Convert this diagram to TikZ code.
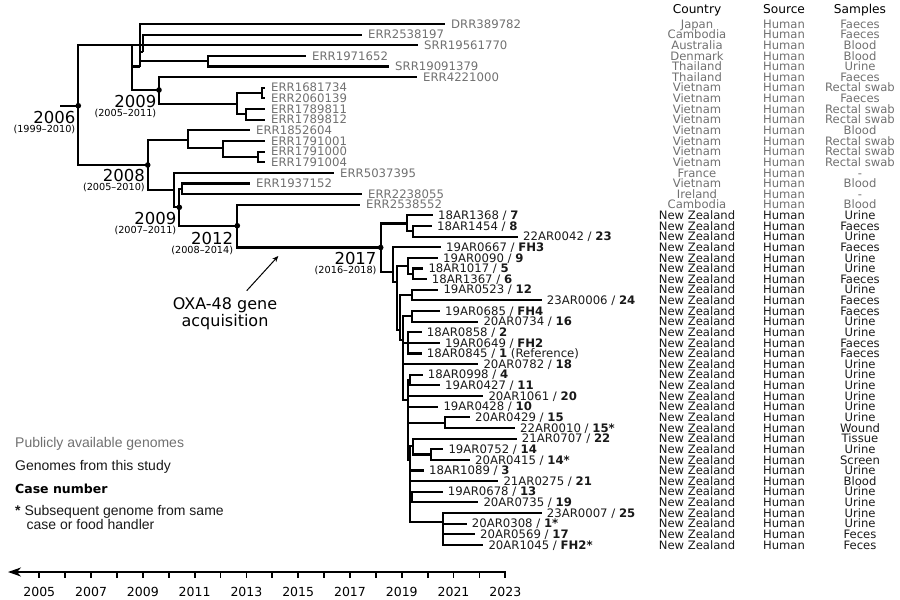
\documentclass[tikz,border=0pt]{standalone}
\usepackage{fontspec}
\setmainfont{DejaVu Sans}
\newfontfamily\legfont{Liberation Sans}
\usepackage{xcolor}
\usetikzlibrary{arrows.meta, positioning}
\definecolor{pubgray}{RGB}{112,112,112}
\definecolor{nzblack}{RGB}{25,25,25}
\newcommand{\casenum}[1]{~/~\textbf{#1}}

\begin{document}
\begin{tikzpicture}[x=1pt, y=-1pt,
    branch/.style={line width=2.1pt},
    pub/.style={anchor=west, text=pubgray, font=\fontsize{11.7}{12}\selectfont,
        text height=8.4pt, text depth=0pt, inner ysep=0pt, inner xsep=6pt},
    nz/.style={pub, text=nzblack, inner xsep=5pt},
    cell/.style={anchor=center, font=\fontsize{11.6}{12}\selectfont,
        text height=8.4pt, text depth=0pt, inner sep=0pt},
    head/.style={anchor=base, font=\fontsize{12.2}{13}\selectfont, inner sep=0pt},
    yr/.style={anchor=base east, font=\fontsize{16.5}{17}\selectfont, inner sep=0pt},
    rng/.style={anchor=base east, font=\fontsize{9.7}{10}\selectfont, inner sep=0pt},
    leg/.style={anchor=base west, font=\legfont\fontsize{14}{16}\selectfont, inner sep=0pt},
    axlab/.style={anchor=base, font=\fontsize{12.5}{13}\selectfont, inner sep=0pt}]
    \useasboundingbox (0,0) rectangle (900,600);

    % tips: public genomes
    \foreach \x/\lab [count=\i] in {445/DRR389782, 362/ERR2538197, 418/SRR19561770,
        306/ERR1971652, 389/SRR19091379, 417/ERR4221000, 265/ERR1681734, 265/ERR2060139,
        265/ERR1789811, 265/ERR1789812, 250/ERR1852604, 265/ERR1791001, 265/ERR1791000,
        265/ERR1791004, 334/ERR5037395, 250/ERR1937152, 362/ERR2238055, 360/ERR2538552} {
        \coordinate (t\i) at (\x,{24+(\i-1)*10.63});
        \node[pub] (l\i) at (t\i) {\lab};
    }

    % tips: genomes from this study
    \foreach \x/\lab [count=\i from 19] in {433/18AR1368\casenum{7}, 432/18AR1454\casenum{8},
        518/22AR0042\casenum{23}, 441/19AR0667\casenum{FH3}, 438/19AR0090\casenum{9},
        423.3/18AR1017\casenum{5}, 426.7/18AR1367\casenum{6}, 438.3/19AR0523\casenum{12},
        541.7/23AR0006\casenum{24}, 440/19AR0685\casenum{FH4}, 478.3/20AR0734\casenum{16},
        421.7/18AR0858\casenum{2}, 440/19AR0649\casenum{FH2}, 421.7/18AR0845\casenum{1} (Reference),
        478.3/20AR0782\casenum{18}, 422.7/18AR0998\casenum{4}, 440/19AR0427\casenum{11},
        483.3/20AR1061\casenum{20}, 438.3/19AR0428\casenum{10}, 470/20AR0429\casenum{15},
        515/22AR0010\casenum{15*}, 516.7/21AR0707\casenum{22}, 443.3/19AR0752\casenum{14},
        470/20AR0415\casenum{14*}, 424/18AR1089\casenum{3}, 498.3/21AR0275\casenum{21},
        442.7/19AR0678\casenum{13}, 478.3/20AR0735\casenum{19}, 541.7/23AR0007\casenum{25},
        466.7/20AR0308\casenum{1*}, 475/20AR0569\casenum{17}, 483.3/20AR1045\casenum{FH2*}} {
        \coordinate (t\i) at (\x,{24+(\i-1)*10.63});
        \node[nz] (l\i) at (t\i) {\lab};
    }

    % internal nodes
    \coordinate (root) at (60,105.7);
    \coordinate (d2006) at (78.3,105.7);
    \coordinate (nA) at (132.3,45.26);
    \coordinate (nB) at (140,66.52);
    \coordinate (nC) at (207.7,61.2);
    \coordinate (nD) at (143.3,52);
    \coordinate (d2009a) at (159,90);
    \coordinate (nE) at (236.7,103.7);
    \coordinate (nF) at (262.3,93.1);
    \coordinate (nG) at (245.7,114.4);
    \coordinate (d2008) at (147.7,165);
    \coordinate (nH) at (188.3,140);
    \coordinate (nI) at (222.7,148);
    \coordinate (nK) at (258,156.9);
    \coordinate (nJ) at (174,190);
    \coordinate (d2009b) at (179.3,207.3);
    \coordinate (nL) at (181.7,188.8);
    \coordinate (d2012) at (237.3,225.7);
    \coordinate (d2017) at (380.7,247.5);
    \coordinate (nM) at (406.7,223.5);
    \coordinate (nN) at (413.3,231.3);
    \coordinate (nNZ) at (393.3,271.7);
    \coordinate (nO) at (396.7,281.7);
    \coordinate (nP) at (408.3,266);
    \coordinate (nR) at (413.3,273.8);
    \coordinate (nQ) at (400,330);
    \coordinate (nS) at (411.7,295);
    \coordinate (nT) at (403.3,340);
    \coordinate (nU) at (411.7,316.3);
    \coordinate (nV) at (408.3,343);
    \coordinate (nW) at (408.3,400);
    \coordinate (nX) at (410,380.1);
    \coordinate (nY) at (445,422.6);
    \coordinate (nZ) at (410,460);
    \coordinate (nAA) at (412.7,446);
    \coordinate (nAD) at (430.7,454.5);
    \coordinate (nAB) at (411.7,497);
    \coordinate (nAC) at (443.3,521.7);

    % branches
    \foreach \pn/\cn in {root/d2006, d2006/nA, d2006/d2008,
        nA/t3, nA/nB, nA/d2009a, nB/t1, nB/nD, nB/nC, nD/t2, nC/t4, nC/t5,
        d2009a/t6, d2009a/nE, nE/nF, nE/nG, nF/t7, nF/t8, nG/t9, nG/t10,
        d2008/nH, d2008/nJ, nH/t11, nH/nI, nI/t12, nI/nK, nK/t13, nK/t14,
        nJ/t15, nJ/d2009b, d2009b/nL, d2009b/d2012, nL/t16, nL/t17,
        d2012/t18, d2012/d2017, d2017/nM, d2017/nNZ, nM/t19, nM/nN, nN/t20, nN/t21,
        nNZ/t22, nNZ/nO, nO/nP, nO/nQ, nP/t23, nP/nR, nR/t24, nR/t25,
        nQ/nS, nQ/nT, nS/t26, nS/t27, nT/nU, nT/nV, nT/t33, nT/nW,
        nU/t28, nU/t29, nV/t30, nV/t31, nV/t32,
        nW/nX, nW/t36, nW/t37, nW/nY, nW/nZ, nX/t34, nX/t35, nY/t38, nY/t39,
        nZ/nAA, nZ/t43, nZ/t44, nZ/nAB, nZ/nAC, nAA/t40, nAA/nAD, nAD/t41, nAD/t42,
        nAB/t45, nAB/t46, nAC/t47, nAC/t48, nAC/t49, nAC/t50}
        \draw[branch] (\pn) |- (\cn);
    \foreach \dn in {d2006, d2009a, d2008, d2009b, d2012, d2017}
        \fill (\dn) circle (2.8);

    % dated nodes
    \node[yr] (y2006) at ([shift={(-2.8,17.3)}]d2006) {2006};
    \node[rng] (r2006) at ([shift={(0,9)}]y2006.base east) {(1999--2010)};
    \node[yr] (y2009a) at ([shift={(-2.5,17)}]d2009a) {2009};
    \node[rng] (r2009a) at ([shift={(0,9)}]y2009a.base east) {(2005--2011)};
    \node[yr] (y2008) at ([shift={(-2.7,16.5)}]d2008) {2008};
    \node[rng] (r2008) at ([shift={(0,9)}]y2008.base east) {(2005--2010)};
    \node[yr] (y2009b) at ([shift={(-2.8,17.3)}]d2009b) {2009};
    \node[rng] (r2009b) at ([shift={(0,9)}]y2009b.base east) {(2007--2011)};
    \node[yr] (y2012) at ([shift={(-4,18.7)}]d2012) {2012};
    \node[rng] (r2012) at ([shift={(0,9)}]y2012.base east) {(2008--2014)};
    \node[yr] (y2017) at ([shift={(-4,17.3)}]d2017) {2017};
    \node[rng] (r2017) at ([shift={(0,9)}]y2017.base east) {(2016--2018)};

    % gene acquisition
    \node[align=center, font=\fontsize{16}{17}\selectfont, inner sep=0pt] (oxa) at (225,313.4)
        {OXA-48 gene\\acquisition};
    \coordinate (oxatail) at (246.7,290.7);
    \coordinate (oxahead) at (278.3,256);
    \draw[line width=1pt, -{Stealth[length=6pt,width=5pt]}] (oxatail) -- (oxahead);

    % metadata table
    \node[head] (hcty) at (697,13) {Country};
    \node[head] (hsrc) at (784,13) {Source};
    \node[head] (hsmp) at (860,13) {Samples};
    \foreach \cty/\smp [count=\i] in {Japan/Faeces, Cambodia/Faeces, Australia/Blood,
        Denmark/Blood, Thailand/Urine, Thailand/Faeces, Vietnam/Rectal swab, Vietnam/Faeces,
        Vietnam/Rectal swab, Vietnam/Rectal swab, Vietnam/Blood, Vietnam/Rectal swab,
        Vietnam/Rectal swab, Vietnam/Rectal swab, France/-, Vietnam/Blood, Ireland/-,
        Cambodia/Blood} {
        \node[cell, pubgray] (cty\i) at (697,{24+(\i-1)*10.63}) {\cty};
        \node[cell, pubgray] (src\i) at (784,{24+(\i-1)*10.63}) {Human};
        \node[cell, pubgray] (smp\i) at (860,{24+(\i-1)*10.63}) {\smp};
    }
    \foreach \smp [count=\i from 19] in {Urine, Faeces, Urine, Faeces, Urine, Urine, Faeces,
        Urine, Faeces, Faeces, Urine, Urine, Faeces, Faeces, Urine, Urine, Urine, Urine,
        Urine, Urine, Wound, Tissue, Urine, Screen, Urine, Blood, Urine, Urine, Urine, Urine,
        Feces, Feces} {
        \node[cell, nzblack] (cty\i) at (697,{24+(\i-1)*10.63}) {New Zealand};
        \node[cell, nzblack] (src\i) at (784,{24+(\i-1)*10.63}) {Human};
        \node[cell, nzblack] (smp\i) at (860,{24+(\i-1)*10.63}) {\smp};
    }

    % legend
    \node[leg, pubgray] (legpub) at (15,447.5) {Publicly available genomes};
    \node[leg, nzblack] (legnz) at (15,470.7) {Genomes from this study};
    \node[anchor=base west, inner sep=0pt, font=\bfseries\fontsize{12.5}{13}\selectfont]
        (legcase) at (15,493.3) {Case number};
    \node[leg, nzblack] (legstar) at (15,515) {\textbf{*} Subsequent genome from same};
    \node[leg, nzblack] (legstarb) at (26.5,529.5) {case or food handler};

    % time axis
    \coordinate (axR) at (505.3,572);
    \coordinate (axL) at (8,572);
    \draw[line width=2pt, -{Stealth[length=13pt,width=9pt,inset=4pt]}] (axR) -- (axL);
    \foreach \k in {0,...,18}
        \draw[line width=1.8pt] ({39.3+\k*25.89},571) -- ++(0,6.5);
    \foreach \yr [count=\k from 0] in {2005,2007,...,2023}
        \node[axlab] (ax\yr) at ({39.3+\k*51.78},596.5) {\yr};
\end{tikzpicture}
\end{document}
